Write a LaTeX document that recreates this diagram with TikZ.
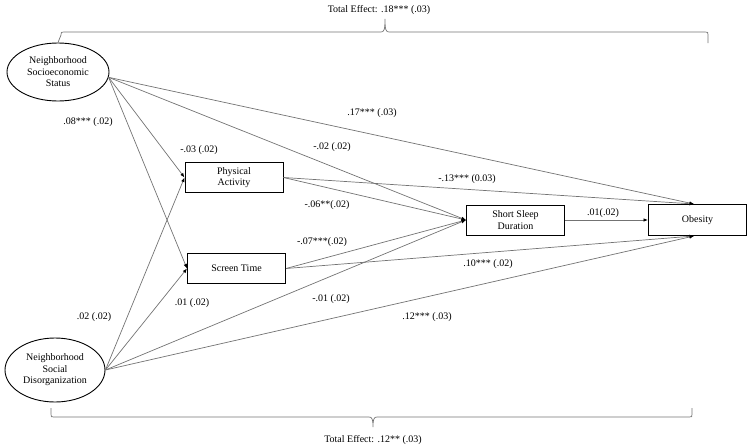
\documentclass[tikz,border=0pt]{standalone}
\usepackage{fontspec}
\setmainfont{Liberation Serif}
\usetikzlibrary{arrows.meta,shapes.geometric}
\definecolor{ln}{RGB}{115,115,115}
\begin{document}
\begin{tikzpicture}[x=1pt,y=-1pt,
  font=\fontsize{10}{11.5}\selectfont,
  var/.style={draw=black, line width=1pt, minimum width=98pt, minimum height=30pt, align=center, inner sep=1pt},
  lat/.style={ellipse, draw=black, line width=0.9pt, align=center, inner sep=0pt},
  pth/.style={draw=ln, line width=0.7pt, -{Latex[length=4.5pt,width=3.5pt,color=black]}},
  brk/.style={draw=ln, line width=0.7pt},
  lbl/.style={inner sep=0pt}
]
\useasboundingbox (0,0) rectangle (750,447);

% nodes
\node[lat, minimum width=102pt, minimum height=58pt] (nses) at (58,72) {Neighborhood\\Socioeconomic\\Status};
\node[lat, minimum width=100pt, minimum height=64pt] (nsd) at (55,370) {Neighborhood\\Social\\Disorganization};
\node[var] (pa) at (234,177.5) {Physical\\Activity};
\node[var] (st) at (236.5,268.5) {Screen Time};
\node[var] (ssd) at (515.5,220) {Short Sleep\\Duration};
\node[var, minimum height=31pt] (ob) at (697.5,220) {Obesity};

% paths from NSES
\draw[pth] (nses.-6) -- ([xshift=-3.5pt]ob.north);
\draw[pth] (nses.-6) -- (ssd.west);
\draw[pth] (nses.-6) -- (pa.west);
\draw[pth] (nses.-6) -- (st.west);
% paths from NSD
\draw[pth] (nsd.east) -- (pa.west);
\draw[pth] (nsd.east) -- (st.west);
\draw[pth] (nsd.east) -- (ssd.west);
\draw[pth] (nsd.east) -- ([xshift=-3.5pt]ob.south);
% mediators
\draw[pth] (pa.east) -- (ssd.west);
\draw[pth] (pa.east) -- ([xshift=-3.5pt]ob.north);
\draw[pth] (st.east) -- (ssd.west);
\draw[pth] (st.east) -- ([xshift=-3.5pt]ob.south);
\draw[pth] (ssd.east) -- (ob.west);

% edge labels
\node[lbl] (l17) at (372,113) {.17*** (.03)};
\node[lbl] (l08) at (88,122) {.08*** (.02)};
\node[lbl] (l03) at (199,150) {-.03 (.02)};
\node[lbl] (l02a) at (332,147) {-.02 (.02)};
\node[lbl] (l13) at (467,179) {-.13*** (0.03)};
\node[lbl] (l06) at (327,205) {-.06**(.02)};
\node[lbl] (l07) at (322,242) {-.07***(.02)};
\node[lbl] (l01a) at (192,303) {.01 (.02)};
\node[lbl] (l01b) at (331,299) {-.01 (.02)};
\node[lbl] (l02b) at (94,317) {.02 (.02)};
\node[lbl] (l01c) at (603,213) {.01(.02)};
\node[lbl] (l10) at (488,264) {.10*** (.02)};
\node[lbl] (l12) at (427,317) {.12*** (.03)};

% total effect brackets
\draw[brk] (nses.north) -- (61,35) .. controls (61,32) .. (64,32) -- (381,32)
  .. controls (384,32) and (385,30) .. (385,19)
  .. controls (385,30) and (386,32) .. (389,32) -- (705,32)
  .. controls (708,32) .. (708,35) -- (708,43);
\node[lbl] (tetop) at (379,10) {Total Effect: .18*** (.03)};

\draw[brk] (51,408) -- (51,414) .. controls (51,417) .. (54,417) -- (369,417)
  .. controls (372,417) and (373,419) .. (373,427)
  .. controls (373,419) and (374,417) .. (377,417) -- (689,417)
  .. controls (692,417) .. (692,414) -- (692,408);
\node[lbl] (tebot) at (373,440) {Total Effect: .12** (.03)};
\end{tikzpicture}
\end{document}
